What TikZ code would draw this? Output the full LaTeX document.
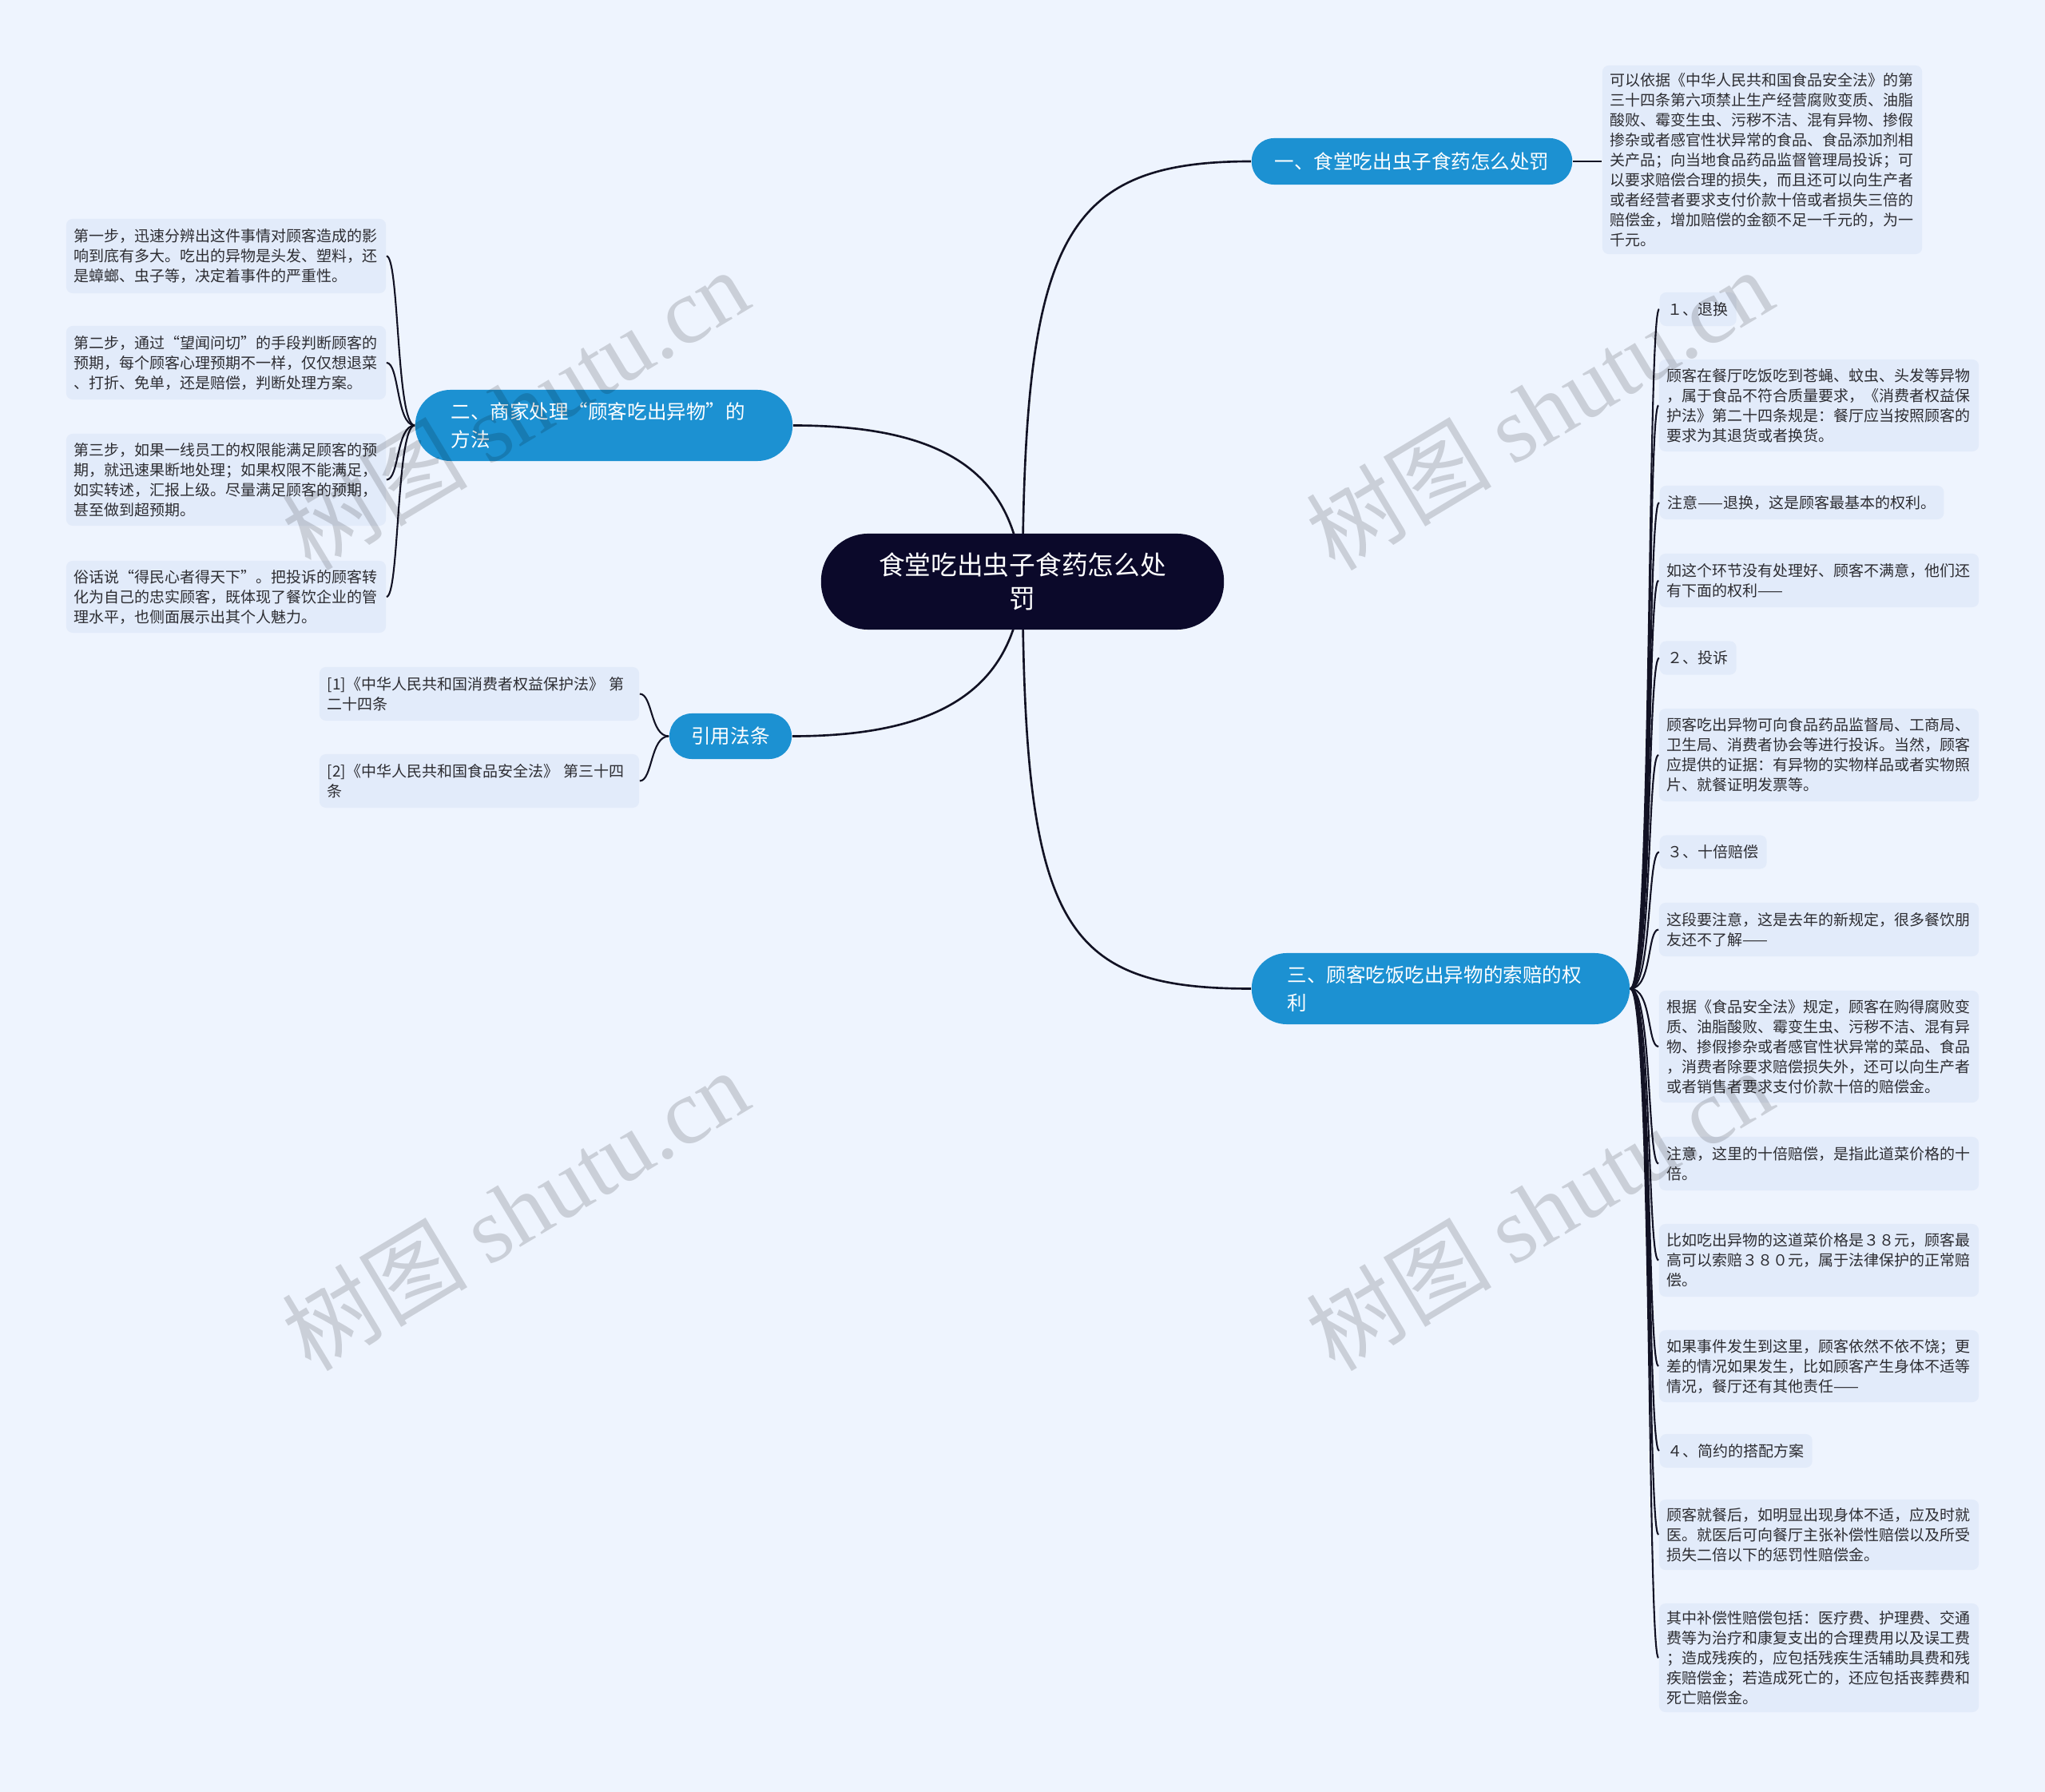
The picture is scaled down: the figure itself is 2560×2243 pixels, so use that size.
\documentclass[tikz,border=0pt]{standalone}
\usepackage{fontspec}
\setmainfont{Noto Sans CJK SC}
\newfontfamily\wmserif{Liberation Serif}
\definecolor{bgcol}{RGB}{238,244,254}
\definecolor{leaffill}{RGB}{226,235,250}
\definecolor{leaftext}{RGB}{45,45,50}
\definecolor{branchblue}{RGB}{28,145,210}
\definecolor{rootcol}{RGB}{11,9,42}
\definecolor{linecol}{RGB}{18,18,36}
\newcommand\leaffont{\fontsize{5.4pt}{7.11pt}\selectfont}
\newcommand\branchfont{\fontsize{6.97pt}{9.96pt}\selectfont}
\newcommand\rootfont{\fontsize{9.3pt}{11.95pt}\selectfont}
\newcommand\wmfont{\fontsize{33pt}{38pt}\selectfont}
\pgfdeclarelayer{bg}
\pgfsetlayers{bg,main}
\tikzset{
  leaf/.style={rectangle, rounded corners=0.08cm, fill=leaffill, text=leaftext,
    font=\leaffont, inner xsep=0.1cm, inner ysep=0pt, align=left},
  wideleaf/.style={leaf, text width=3.8cm},
  shortleaf/.style={leaf, anchor=west, minimum height=0.42cm},
  branch/.style={rectangle, fill=branchblue, text=white, font=\branchfont, inner ysep=0pt},
  rootnode/.style={rectangle, fill=rootcol, text=white, font=\rootfont, align=center,
    minimum width=5.04cm, minimum height=1.2cm, rounded corners=0.59cm, inner ysep=0pt},
  conn/.style={draw=linecol, line width=0.75pt},
  bconn/.style={draw=linecol, line width=0.6pt},
  wm/.style={font=\wmfont, text=black, text opacity=0.15, rotate=31}
}
\begin{document}
\begin{tikzpicture}[x=0.01cm, y=-0.01cm]
\useasboundingbox (0,0) rectangle (2560,2243);

% root and branches
\node[rootnode] (root) at (1280,728) {食堂吃出虫子食药怎么处\\罚};
\node[branch, minimum width=4.01cm, minimum height=0.58cm, rounded corners=0.28cm, align=center] (b1) at (1767.5,202) {一、食堂吃出虫子食药怎么处罚};
\node[branch, text width=3.82cm, inner xsep=0.45cm, minimum height=0.89cm, rounded corners=0.44cm, align=left] (b2) at (756,532.5) {二、商家处理“顾客吃出异物”的\\方法};
\node[branch, text width=3.83cm, inner xsep=0.45cm, minimum height=0.89cm, rounded corners=0.44cm, align=left] (b3) at (1803.5,1237.5) {三、顾客吃饭吃出异物的索赔的权\\利};
\node[branch, minimum width=1.53cm, minimum height=0.57cm, rounded corners=0.28cm, align=center] (b4) at (914.5,921.5) {引用法条};

% branch 1 leaf
\node[wideleaf, minimum height=2.36cm] (a1) at (2206,200) {可以依据《中华人民共和国食品安全法》的第\\三十四条第六项禁止生产经营腐败变质、油脂\\酸败、霉变生虫、污秽不洁、混有异物、掺假\\掺杂或者感官性状异常的食品、食品添加剂相\\关产品；向当地食品药品监督管理局投诉；可\\以要求赔偿合理的损失，而且还可以向生产者\\或者经营者要求支付价款十倍或者损失三倍的\\赔偿金，增加赔偿的金额不足一千元的，为一\\千元。};

% branch 2 leaves
\node[wideleaf, minimum height=0.93cm] (p1) at (283,320.5) {第一步，迅速分辨出这件事情对顾客造成的影\\响到底有多大。吃出的异物是头发、塑料，还\\是蟑螂、虫子等，决定着事件的严重性。};
\node[wideleaf, minimum height=0.92cm] (p2) at (283,454) {第二步，通过“望闻问切”的手段判断顾客的\\预期，每个顾客心理预期不一样，仅仅想退菜\\、打折、免单，还是赔偿，判断处理方案。};
\node[wideleaf, minimum height=1.15cm] (p3) at (283,600.5) {第三步，如果一线员工的权限能满足顾客的预\\期，就迅速果断地处理；如果权限不能满足，\\如实转述，汇报上级。尽量满足顾客的预期，\\甚至做到超预期。};
\node[wideleaf, minimum height=0.9cm] (p4) at (283,747) {俗话说“得民心者得天下”。把投诉的顾客转\\化为自己的忠实顾客，既体现了餐饮企业的管\\理水平，也侧面展示出其个人魅力。};

% branch 4 leaves
\node[wideleaf, minimum height=0.67cm] (q1) at (600,868.5) {[1]《中华人民共和国消费者权益保护法》 第\\二十四条};
\node[wideleaf, minimum height=0.67cm] (q2) at (600,977.5) {[2]《中华人民共和国食品安全法》 第三十四\\条};

% branch 3 leaves
\node[shortleaf] (r1) at (2077,387) {１、退换};
\node[wideleaf, minimum height=1.15cm] (r2) at (2277,507.5) {顾客在餐厅吃饭吃到苍蝇、蚊虫、头发等异物\\，属于食品不符合质量要求，《消费者权益保\\护法》第二十四条规是：餐厅应当按照顾客的\\要求为其退货或者换货。};
\node[shortleaf] (r3) at (2077,629) {注意——退换，这是顾客最基本的权利。};
\node[wideleaf, minimum height=0.67cm] (r4) at (2277,726.5) {如这个环节没有处理好、顾客不满意，他们还\\有下面的权利——};
\node[shortleaf] (r5) at (2077,823.5) {２、投诉};
\node[wideleaf, minimum height=1.16cm] (r6) at (2277,945) {顾客吃出异物可向食品药品监督局、工商局、\\卫生局、消费者协会等进行投诉。当然，顾客\\应提供的证据：有异物的实物样品或者实物照\\片、就餐证明发票等。};
\node[shortleaf] (r7) at (2077,1066.5) {３、十倍赔偿};
\node[wideleaf, minimum height=0.67cm] (r8) at (2277,1163.5) {这段要注意，这是去年的新规定，很多餐饮朋\\友还不了解——};
\node[wideleaf, minimum height=1.4cm] (r9) at (2277,1310) {根据《食品安全法》规定，顾客在购得腐败变\\质、油脂酸败、霉变生虫、污秽不洁、混有异\\物、掺假掺杂或者感官性状异常的菜品、食品\\，消费者除要求赔偿损失外，还可以向生产者\\或者销售者要求支付价款十倍的赔偿金。};
\node[wideleaf, minimum height=0.67cm] (r10) at (2277,1456.5) {注意，这里的十倍赔偿，是指此道菜价格的十\\倍。};
\node[wideleaf, minimum height=0.91cm] (r11) at (2277,1577.5) {比如吃出异物的这道菜价格是３８元，顾客最\\高可以索赔３８０元，属于法律保护的正常赔\\偿。};
\node[wideleaf, minimum height=0.9cm] (r12) at (2277,1710) {如果事件发生到这里，顾客依然不依不饶；更\\差的情况如果发生，比如顾客产生身体不适等\\情况，餐厅还有其他责任——};
\node[shortleaf] (r13) at (2077,1816) {４、简约的搭配方案};
\node[wideleaf, minimum height=0.88cm] (r14) at (2277,1921) {顾客就餐后，如明显出现身体不适，应及时就\\医。就医后可向餐厅主张补偿性赔偿以及所受\\损失二倍以下的惩罚性赔偿金。};
\node[wideleaf, minimum height=1.36cm] (r15) at (2277,2075) {其中补偿性赔偿包括：医疗费、护理费、交通\\费等为治疗和康复支出的合理费用以及误工费\\；造成残疾的，应包括残疾生活辅助具费和残\\疾赔偿金；若造成死亡的，还应包括丧葬费和\\死亡赔偿金。};

% watermarks
\node[wm] (wm1) at (645,512) {树图 {\wmserif shutu.cn}};
\node[wm] (wm2) at (1927,512) {树图 {\wmserif shutu.cn}};
\node[wm] (wm3) at (645,1514) {树图 {\wmserif shutu.cn}};
\node[wm] (wm4) at (1927,1514) {树图 {\wmserif shutu.cn}};

\begin{pgfonlayer}{bg}
\fill[bgcol] (0,0) rectangle (2560,2243);
% main connectors
\draw[conn] (root.center) .. controls (1282,300) and (1330,202) .. (b1.west);
\draw[conn] (root.center) .. controls (1282,1160) and (1330,1237.5) .. (b3.west);
\draw[conn] (b2.east) .. controls (1180,532.5) and (1270,590) .. (root.center);
\draw[conn] (b4.east) .. controls (1180,921.5) and (1270,860) .. (root.center);
% branch 1
\draw[bconn] (b1.east) -- (b1.east -| a1.west);
% branch 2
\draw[bconn] (b2.west) .. controls (496,532.5) and (500,320.5) .. (p1.east);
\draw[bconn] (b2.west) .. controls (496,532.5) and (500,454) .. (p2.east);
\draw[bconn] (b2.west) .. controls (496,532.5) and (500,600.5) .. (p3.east);
\draw[bconn] (b2.west) .. controls (496,532.5) and (500,747) .. (p4.east);
% branch 4
\draw[bconn] (b4.west) .. controls (814,921.5) and (817,868.5) .. (q1.east);
\draw[bconn] (b4.west) .. controls (814,921.5) and (817,977.5) .. (q2.east);
% branch 3
\foreach \n/\yy in {r1/387,r2/507.5,r3/629,r4/726.5,r5/823.5,r6/945,r7/1066.5,r8/1163.5,r9/1310,r10/1456.5,r11/1577.5,r12/1710,r13/1816,r14/1921,r15/2075}
  \draw[bconn] (b3.east) .. controls (2068,1237.5) and (2062,\yy) .. (\n.west);
\end{pgfonlayer}
\end{tikzpicture}
\end{document}
